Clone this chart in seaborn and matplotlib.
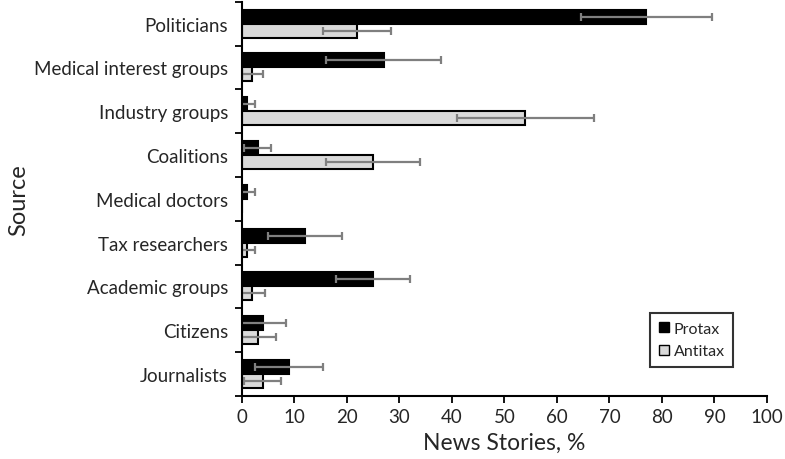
import matplotlib
matplotlib.use("Agg")
import matplotlib.pyplot as plt
from matplotlib.patches import Patch
import numpy as np
import pandas as pd
import seaborn as sns

sources = ["Politicians", "Medical interest groups", "Industry groups", "Coalitions",
           "Medical doctors", "Tax researchers", "Academic groups", "Citizens", "Journalists"]
protax = [77, 27, 1, 3, 1, 12, 25, 4, 9]
protax_err = [12.5, 11, 1.5, 2.6, 1.5, 7, 7, 4.5, 6.5]
antitax = [22, 2, 54, 25, 0, 1, 2, 3, 4]
antitax_err = [6.5, 2, 13, 9, 0, 1.5, 2.5, 3.5, 3.5]

df = pd.DataFrame({
    "Source": sources * 2,
    "Stance": ["Protax"] * len(sources) + ["Antitax"] * len(sources),
    "Share": protax + antitax,
})

sns.set_style("ticks")
plt.rcParams["font.family"] = ["Lato", "DejaVu Sans"]

fig = plt.figure(figsize=(7.85, 4.6), dpi=100)
ax = fig.add_axes([0.308, 0.137, 0.669, 0.857])

sns.barplot(data=df, x="Share", y="Source", hue="Stance", order=sources,
            hue_order=["Protax", "Antitax"], palette=["black", "#d9d9d9"],
            orient="h", width=0.64, edgecolor="black", linewidth=1.5,
            errorbar=None, legend=False, ax=ax)

# error bars drawn at the bar ends
for cont, errs in zip(ax.containers, [protax_err, antitax_err]):
    for bar, e in zip(cont, errs):
        if e == 0:
            continue
        ax.errorbar(bar.get_width(), bar.get_y() + bar.get_height() / 2, xerr=e,
                    fmt="none", ecolor="#7f7f7f", elinewidth=1.6, capsize=3, capthick=1.6)

ax.set_xlim(0, 100)
ax.set_ylim(len(sources) - 0.5, -0.5)
ax.set_xticks(np.arange(0, 101, 10))
ax.set_yticks(np.arange(len(sources)))
ax.set_yticks(np.arange(len(sources) + 1) - 0.5, minor=True)
ax.tick_params(axis="y", which="major", length=0, labelsize=13.5, pad=10)
ax.tick_params(axis="y", which="minor", length=5, width=1.3, direction="out", color="black")
ax.tick_params(axis="x", length=5, width=1.3, labelsize=13.5, color="black")
for s in ["left", "bottom"]:
    ax.spines[s].set_linewidth(1.5)
    ax.spines[s].set_color("black")
sns.despine(ax=ax)

ax.set_xlabel("News Stories, %", fontsize=16.5, labelpad=5)
ax.set_ylabel("Source", fontsize=17)
ax.yaxis.set_label_coords(-0.405, 0.5)

handles = [Patch(facecolor="black", edgecolor="black", label="Protax"),
           Patch(facecolor="#d9d9d9", edgecolor="black", label="Antitax")]
leg = ax.legend(handles=handles, loc="upper left", bbox_to_anchor=(0.778, 0.211),
                fontsize=11.5, frameon=True, fancybox=False, handlelength=0.6, handleheight=0.6,
                handletextpad=0.3, borderpad=0.55, labelspacing=0.55, borderaxespad=0)
leg.get_frame().set_edgecolor("black")
leg.get_frame().set_linewidth(1.5)

fig.savefig("out.png", dpi=100)
